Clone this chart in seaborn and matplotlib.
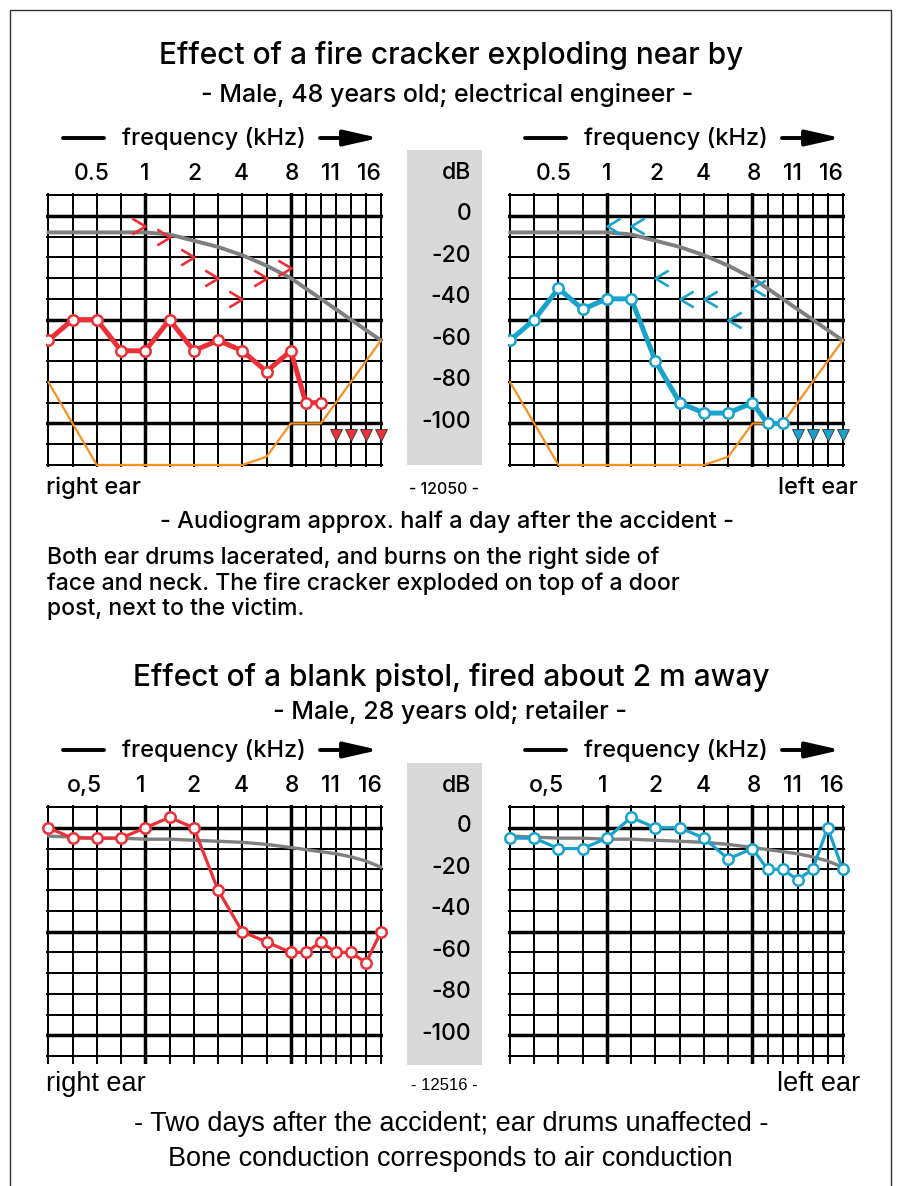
import numpy as np
import matplotlib
matplotlib.use("Agg")
import matplotlib.pyplot as plt
import seaborn as sns
from matplotlib.patches import Rectangle

sns.set_style("white")
plt.rcParams['font.family'] = ['Inter', 'Liberation Sans', 'DejaVu Sans']
plt.rcParams['text.color'] = 'black'

# Audiogram frequencies (kHz), one per grid column
freqs = [0.25, 0.375, 0.5, 0.75, 1, 1.5, 2, 3, 4, 6, 8, 9, 10, 11.2, 12.5, 14, 16]
tick_labels_1 = ["0.5", "1", "2", "4", "8", "11", "16"]
tick_labels_2 = ["o,5", "1", "2", "4", "8", "11", "16"]
db_labels = ["0", "-20", "-40", "-60", "-80", "-100"]

# Case 1: fire cracker, male 48
c1_air_freqs = freqs[:13]
c1_right_air = [-60, -50, -50, -65, -65, -50, -65, -60, -65, -75, -65, -90, -90]
c1_left_air = [-60, -50, -35, -45, -40, -40, -70, -90, -95, -95, -90, -100, -100]
c1_bone_freqs = [1, 1.5, 2, 3, 4, 6, 8]
c1_right_bone = [-5, -10, -20, -30, -40, -30, -25]
c1_left_bone = [-5, -5, -30, -40, -40, -50, -35]
c1_noresp_freqs = [11.2, 12.5, 14, 16]
c1_noresp_db = [-105.5, -105.5, -105.5, -105.5]
c1_age_curve = [-8, -8, -8, -8, -8, -9, -12, -15, -19, -24, -30, -35, -40, -45, -50, -55, -60]
audiometer_limit = [-80, -100, -120, -120, -120, -120, -120, -120, -120, -116,
                    -100, -100, -100, -90, -80, -70, -60]

# Case 2: blank pistol, male 28
c2_right_air = [0, -5, -5, -5, 0, 5, 0, -30, -50, -55, -60, -60, -55, -60, -60, -65, -50]
c2_left_air = [-5, -5, -10, -10, -5, 5, 0, 0, -5, -15, -10, -20, -20, -25, -20, 0, -20]
c2_age_curve = [-4, -4.5, -5, -5, -5.5, -5.5, -6, -6.5, -7, -8, -9.5, -10.5, -11.5,
                -12.5, -14, -16, -19]

RED = '#ec3038'
BLUE = '#19a3cc'
GRAY = '#7f7f7f'
ORANGE = '#f7901e'

W, H = 898, 1186
fig = plt.figure(figsize=(W / 100, H / 100), dpi=100)

# scale: half-octave columns up to 8 kHz, narrower columns above
col_pos = list(range(11)) + [10 + 0.62 * k for k in range(1, 7)]
anchor_f = np.array([0.125] + freqs + [32.0])
anchor_p = np.array([-2.0] + col_pos + [col_pos[-1] + 3.7])


def fwd(f):
    return np.interp(f, anchor_f, anchor_p)


def inv(p):
    return np.interp(p, anchor_p, anchor_f)


PX_COL = (381 - 48.3) / col_pos[-1]
PX_DB = 2.077


def panel(x0, y_top, ylo, yhi=11):
    # x0: pixel of 0.25 kHz line, y_top: pixel of +10 dB line
    left = x0 - 0.08 * PX_COL
    right = x0 + col_pos[-1] * PX_COL + 0.08 * PX_COL
    top = y_top - (yhi - 10) * PX_DB
    bot = y_top + (10 - ylo) * PX_DB
    ax = fig.add_axes([left / W, 1 - bot / H, (right - left) / W, (bot - top) / H])
    ax.set_xscale('function', functions=(fwd, inv))
    ax.set_xlim(0.245, 16.35)
    ax.set_ylim(ylo, yhi)
    ax.set_xticks(freqs)
    ax.set_yticks(np.arange(int(np.ceil(ylo / 10) * 10), 11, 10))
    ax.tick_params(length=0, labelbottom=False, labelleft=False)
    ax.grid(True, color='black', lw=1.45)
    ax.set_axisbelow(True)
    for s in ax.spines.values():
        s.set_visible(False)
    for f in (1, 8):
        ax.axvline(f, color='black', lw=2.5, zorder=1)
    for d in (0, -50, -100):
        ax.axhline(d, color='black', lw=2.5, zorder=1)
    ax.set_facecolor('none')
    return ax


def air_line(ax, x, y, color, lw):
    sns.lineplot(x=x, y=y, ax=ax, color=color, linewidth=lw, marker='o',
                 markersize=7.5, mfc='white', mec=color, mew=1.8,
                 estimator=None, sort=False, zorder=5)


bone_right = [(-1, 0.6), (0, 0), (-1, -0.6)]
bone_left = [(1, 0.6), (0, 0), (1, -0.6)]

# background canvas in pixel coordinates
bg = fig.add_axes([0, 0, 1, 1])
bg.set_xlim(0, W)
bg.set_ylim(H, 0)
bg.axis('off')
bg.add_patch(Rectangle((10, 10), 881, 1200, fill=False, lw=1, ec='#333333'))

WT = 'medium'
tk = dict(ha='center', va='center', color='black', fontweight=WT)

# ---------- case 1 ----------
bg.text(451, 56, "Effect of a fire cracker exploding near by", fontsize=21.5, **tk)
bg.text(447, 95, "- Male, 48 years old; electrical engineer -", fontsize=18, **tk)


def freq_header(y, xoff, labels, label_x):
    bg.plot([63 + xoff, 104 + xoff], [y, y], color='black', lw=2.8)
    bg.text(214 + xoff, y + 1, "frequency (kHz)", fontsize=17, **tk)
    bg.annotate('', xy=(379 + xoff, y), xytext=(320 + xoff, y),
                arrowprops=dict(arrowstyle='-|>,head_length=1.5,head_width=0.34',
                                mutation_scale=14, lw=2.8, color='black',
                                shrinkA=0, shrinkB=0))
    for lab, lx in zip(labels, label_x):
        bg.text(lx + xoff, y + 36, lab, fontsize=16.5, **tk)


lab_x1 = [92, 145, 194, 241, 292, 330, 369]
lab_x2 = [84, 141, 193, 241, 292, 330, 370]
freq_header(138, 0, tick_labels_1, lab_x1)
freq_header(138, 462, tick_labels_1, lab_x1)


def db_column(y_top, y_bot, zero_px):
    bg.add_patch(Rectangle((407, y_top), 75, y_bot - y_top, color='#d9d9d9', lw=0))
    bg.text(471, y_top + 23, "dB", fontsize=16.5, fontweight=WT, ha='right', va='center')
    for i, lab in enumerate(db_labels):
        bg.text(471, zero_px - 1 + 20 * i * PX_DB, lab, fontsize=16.5, fontweight=WT,
                ha='right', va='center')


db_column(150, 465, 215)

ax1 = panel(48.3, 195, -121)
ax2 = panel(510.0, 195, -121)
for ax, air, bone, mk, col in ((ax1, c1_right_air, c1_right_bone, bone_right, RED),
                               (ax2, c1_left_air, c1_left_bone, bone_left, BLUE)):
    ax.plot(freqs, c1_age_curve, color=GRAY, lw=2.8, zorder=3)
    ax.plot(freqs, audiometer_limit, color=ORANGE, lw=1.6, zorder=3)
    air_line(ax, c1_air_freqs, air, col, 3.6)
    ax.plot(c1_bone_freqs, bone, ls='none', marker=mk, ms=19, mfc='none', mec=col,
            mew=1.9, zorder=6)
    ax.plot(c1_noresp_freqs, c1_noresp_db, ls='none', marker='v', ms=8, mfc=col,
            mec='#333333', mew=0.6, zorder=6, clip_on=False)

bg.text(46, 488, "right ear", fontsize=17, fontweight=WT, ha='left', va='center')
bg.text(858, 488, "left ear", fontsize=17, fontweight=WT, ha='right', va='center')
bg.text(444, 490, "- 12050 -", fontsize=11.5, **tk)
bg.text(447, 522, "- Audiogram approx. half a day after the accident -", fontsize=17, **tk)
para = ["Both ear drums lacerated, and burns on the right side of",
        "face and neck. The fire cracker exploded on top of a door",
        "post, next to the victim."]
for i, line in enumerate(para):
    bg.text(47, 558 + 25.5 * i, line, fontsize=16.5, fontweight=WT, ha='left',
            va='center')

# ---------- case 2 ----------
bg.text(451, 678, "Effect of a blank pistol, fired about 2 m away", fontsize=21.5, **tk)
bg.text(450, 712, "- Male, 28 years old; retailer -", fontsize=18, **tk)
freq_header(750, 0, tick_labels_2, lab_x2)
freq_header(750, 462, tick_labels_2, lab_x2)
db_column(763, 1065, 827)

ax3 = panel(48.3, 807, -113.5)
ax4 = panel(510.0, 807, -113.5)
for ax, air, col in ((ax3, c2_right_air, RED), (ax4, c2_left_air, BLUE)):
    ax.plot(freqs, c2_age_curve, color=GRAY, lw=2.4, zorder=3)
    air_line(ax, freqs, air, col, 2.3)
    for ln in ax.lines[-1:]:
        ln.set_clip_on(False)

cond = ['Liberation Sans', 'DejaVu Sans']
bg.text(46, 1084, "right ear", fontsize=19.5, family=cond, ha='left', va='center')
bg.text(860, 1084, "left ear", fontsize=19.5, family=cond, ha='right', va='center')
bg.text(444, 1085, "- 12516 -", fontsize=12, family=cond, ha='center', va='center')
bg.text(451, 1124, "- Two days after the accident; ear drums unaffected -", fontsize=19.5,
        family=cond, ha='center', va='center')
bg.text(450, 1159, "Bone conduction corresponds to air conduction", fontsize=19.5,
        family=cond, ha='center', va='center')

fig.savefig("out.png", dpi=100)
